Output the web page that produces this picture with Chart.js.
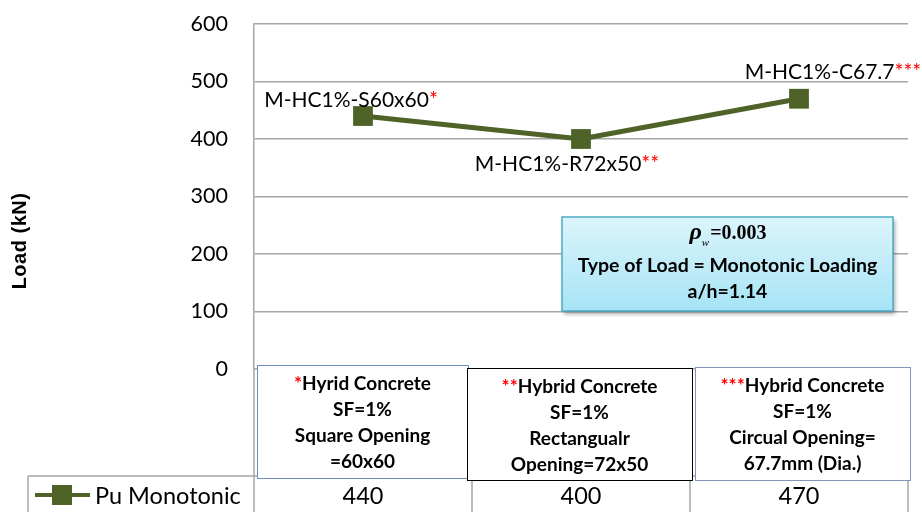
<!DOCTYPE html>
<html>
<head>
<meta charset="utf-8">
<script src="https://cdn.jsdelivr.net/npm/chart.js@4.4.0/dist/chart.umd.min.js"></script>
<style>
  html, body { margin: 0; padding: 0; background: #fff; }
</style>
</head>
<body>
<canvas id="graficoCarga" width="922" height="512"></canvas>
<script>
// dados
const categorias = ['M-HC1%-S60x60', 'M-HC1%-R72x50', 'M-HC1%-C67.7'];
const asteriscos = ['*', '**', '***'];
const puMonotonic = [440, 400, 470];
const yTicks = [0, 100, 200, 300, 400, 500, 600];
const serieNome = 'Pu Monotonic';
const descricoes = [
    ['Hyrid Concrete', 'SF=1%', 'Square Opening', '=60x60'],
    ['Hybrid Concrete', 'SF=1%', 'Rectangualr', 'Opening=72x50'],
    ['Hybrid Concrete', 'SF=1%', 'Circual Opening=', '67.7mm (Dia.)']
];
const infoLinhas = ['=0.003', 'Type of Load = Monotonic Loading', 'a/h=1.14'];

const VERDE = '#4f6228';
const CINZA = '#a6a6a6';
const SANS = 'Lato, "Noto Sans", sans-serif';

function desenhaPonto(ctx, x, y, lado) {
    ctx.fillStyle = VERDE;
    ctx.fillRect(x - lado / 2, y - lado / 2, lado, lado);
}

const sobreposicao = {
    id: 'sobreposicao',
    afterDraw(chart) {
        const ctx = chart.ctx;
        const area = chart.chartArea;
        const xs = chart.scales.x;
        const meta = chart.getDatasetMeta(0);
        const larg = (area.right - area.left) / categorias.length;
        const limites = [0, 1, 2, 3].map(i => area.left + i * larg);

        ctx.save();

        // rótulos dos pontos
        const desloc = [[-12, -16], [-14, 25], [34, -27]];
        ctx.font = '21px ' + SANS;
        ctx.textBaseline = 'middle';
        ctx.textAlign = 'left';
        meta.data.forEach((p, i) => {
            const t = categorias[i], a = asteriscos[i];
            const w1 = ctx.measureText(t).width;
            const w2 = ctx.measureText(a).width;
            const x0 = p.x + desloc[i][0] - (w1 + w2) / 2;
            const y0 = p.y + desloc[i][1];
            ctx.fillStyle = '#000';
            ctx.fillText(t, x0, y0);
            ctx.fillStyle = '#ff0000';
            ctx.fillText(a, x0 + w1, y0);
        });

        // caixa de informação
        const bx = 562, by = 217, bw = 331, bh = 94;
        ctx.save();
        ctx.shadowColor = 'rgba(0,0,0,0.35)';
        ctx.shadowOffsetX = 2;
        ctx.shadowOffsetY = 3;
        ctx.shadowBlur = 4;
        const grad = ctx.createLinearGradient(0, by, 0, by + bh);
        grad.addColorStop(0, '#dcf4fb');
        grad.addColorStop(1, '#a6e4f6');
        ctx.fillStyle = grad;
        ctx.fillRect(bx, by, bw, bh);
        ctx.restore();
        ctx.strokeStyle = '#4bacc6';
        ctx.lineWidth = 1.5;
        ctx.strokeRect(bx, by, bw, bh);

        const cx = bx + bw / 2;
        ctx.fillStyle = '#000';
        ctx.textBaseline = 'alphabetic';
        ctx.font = 'bold italic 24px "Liberation Serif", serif';
        const wRho = ctx.measureText('ρ').width;
        ctx.font = 'italic 11px "Liberation Serif", serif';
        const wSub = ctx.measureText('w').width;
        ctx.font = 'bold 20px "Liberation Serif", serif';
        const wVal = ctx.measureText(infoLinhas[0]).width;
        let xr = cx - (wRho + wSub + wVal) / 2;
        ctx.textAlign = 'left';
        ctx.font = 'bold italic 24px "Liberation Serif", serif';
        ctx.fillText('ρ', xr, 239);
        ctx.font = 'italic 11px "Liberation Serif", serif';
        ctx.fillText('w', xr + wRho, 246);
        ctx.font = 'bold 20px "Liberation Serif", serif';
        ctx.fillText(infoLinhas[0], xr + wRho + wSub + 1, 239);

        ctx.textAlign = 'center';
        ctx.textBaseline = 'middle';
        ctx.font = 'bold 19.5px ' + SANS;
        ctx.fillText(infoLinhas[1], cx, 266);
        ctx.fillText(infoLinhas[2], cx, 292);

        // eixo vertical prolongado e tabela de dados
        ctx.strokeStyle = CINZA;
        ctx.lineWidth = 1.5;
        ctx.beginPath();
        ctx.moveTo(area.left, area.bottom);
        ctx.lineTo(area.left, 512);
        ctx.moveTo(28, 476);
        ctx.lineTo(area.right, 476);
        ctx.moveTo(28, 476);
        ctx.lineTo(28, 512);
        limites.slice(1).forEach(lx => {
            ctx.moveTo(lx, 476);
            ctx.lineTo(lx, 512);
        });
        ctx.stroke();

        // caixas das categorias
        const caixas = [
            { l: limites[0] + 3, r: limites[1] - 4, t: 365, b: 478, cor: '#6f8fbf' },
            { l: limites[1] - 5, r: limites[2] + 2, t: 368, b: 480, cor: '#000000' },
            { l: limites[2] + 5, r: limites[3] + 2, t: 367, b: 480, cor: '#7f96b8' }
        ];
        caixas.forEach((c, i) => {
            ctx.fillStyle = '#fff';
            ctx.fillRect(c.l, c.t, c.r - c.l, c.b - c.t);
            ctx.strokeStyle = c.cor;
            ctx.lineWidth = 1;
            ctx.strokeRect(c.l + 0.5, c.t + 0.5, c.r - c.l, c.b - c.t);
            const mx = (c.l + c.r) / 2;
            ctx.font = 'bold 19px ' + SANS;
            ctx.textBaseline = 'middle';
            descricoes[i].forEach((linha, j) => {
                const y = c.t + 19 + j * 26;
                if (j === 0) {
                    const wa = ctx.measureText(asteriscos[i]).width;
                    const wl = ctx.measureText(linha).width;
                    const x0 = mx - (wa + wl) / 2;
                    ctx.textAlign = 'left';
                    ctx.fillStyle = '#ff0000';
                    ctx.fillText(asteriscos[i], x0, y);
                    ctx.fillStyle = '#000';
                    ctx.fillText(linha, x0 + wa, y);
                } else {
                    ctx.textAlign = 'center';
                    ctx.fillStyle = '#000';
                    ctx.fillText(linha, mx, y);
                }
            });
        });

        // linha da legenda e valores
        ctx.strokeStyle = VERDE;
        ctx.lineWidth = 4;
        ctx.beginPath();
        ctx.moveTo(35, 495);
        ctx.lineTo(90, 495);
        ctx.stroke();
        desenhaPonto(ctx, 62, 495, 20);
        ctx.fillStyle = '#000';
        ctx.font = '23.5px ' + SANS;
        ctx.textAlign = 'left';
        ctx.textBaseline = 'middle';
        ctx.fillText(serieNome, 95, 496);
        ctx.textAlign = 'center';
        puMonotonic.forEach((v, i) => {
            ctx.fillText(String(v), xs.getPixelForValue(i), 496);
        });

        // título do eixo y
        ctx.save();
        ctx.translate(20, 241);
        ctx.rotate(-Math.PI / 2);
        ctx.font = 'bold 20px "Liberation Sans", Arial, sans-serif';
        ctx.letterSpacing = '0.5px';
        ctx.textAlign = 'center';
        ctx.textBaseline = 'middle';
        ctx.fillText('Load (kN)', 0, 0);
        ctx.restore();

        ctx.restore();
    }
};

new Chart(document.getElementById('graficoCarga'), {
    type: 'line',
    data: {
        labels: categorias,
        datasets: [{
            label: serieNome,
            data: puMonotonic,
            borderColor: VERDE,
            backgroundColor: VERDE,
            borderWidth: 5,
            pointStyle: 'rect',
            pointRadius: 14,
            pointHoverRadius: 14,
            pointBorderWidth: 0,
            tension: 0
        }]
    },
    options: {
        responsive: false,
        animation: false,
        devicePixelRatio: 1,
        layout: {
            padding: { top: 24, bottom: 143, left: 0, right: 9 }
        },
        plugins: {
            legend: { display: false },
            tooltip: { enabled: false }
        },
        scales: {
            x: {
                type: 'category',
                offset: true,
                display: false
            },
            y: {
                min: 0,
                max: 600,
                afterFit: scale => {
                    scale.width = 254;
                    scale.paddingTop = 0;
                    scale.paddingBottom = 0;
                },
                afterBuildTicks: scale => {
                    scale.ticks = yTicks.map(v => ({ value: v }));
                },
                grid: {
                    color: CINZA,
                    lineWidth: 1.5,
                    drawTicks: false
                },
                border: { color: CINZA, width: 1.5 },
                ticks: {
                    color: '#000',
                    padding: 26,
                    font: { family: 'Lato', size: 21.5 }
                }
            }
        }
    },
    plugins: [sobreposicao]
});
</script>
</body>
</html>
